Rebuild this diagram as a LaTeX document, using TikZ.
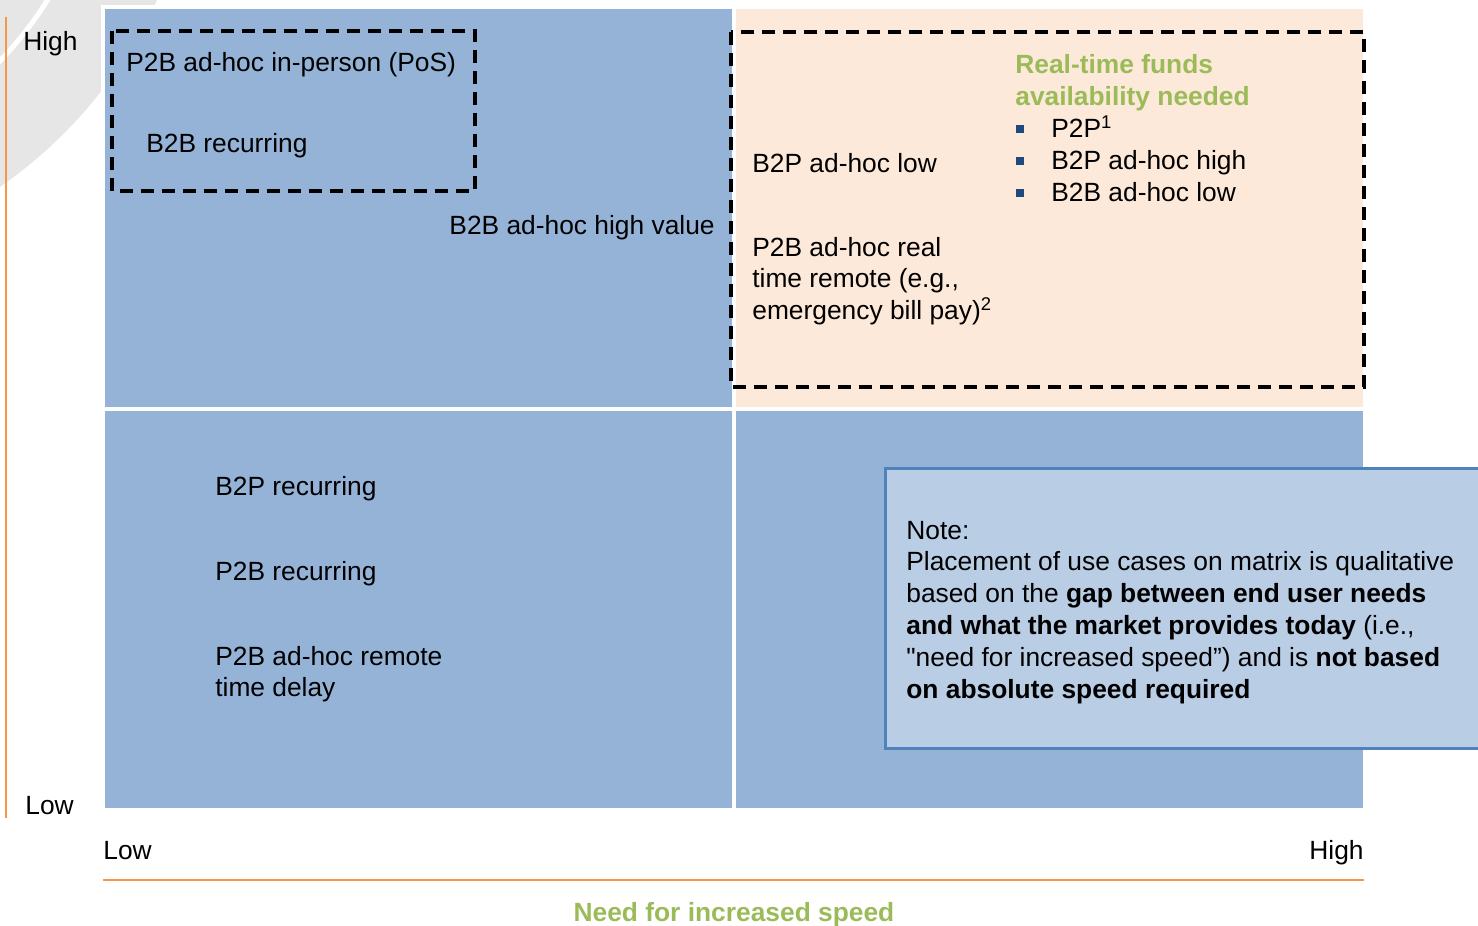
\documentclass[tikz,border=0pt]{standalone}
\usepackage{fontspec}
\setmainfont{Liberation Sans}
\usepackage{xcolor}
\usetikzlibrary{positioning}

\definecolor{quadblue}{HTML}{95B3D7}
\definecolor{quadpeach}{HTML}{FDE9D9}
\definecolor{notefill}{HTML}{B9CDE5}
\definecolor{noteline}{HTML}{4F81BD}
\definecolor{headgreen}{HTML}{9BBB59}
\definecolor{axisorange}{HTML}{F79646}
\definecolor{bulletblue}{HTML}{1F497D}
\definecolor{arcgrey}{HTML}{E6E6E6}

\newcommand{\mainsize}{\fontsize{15}{18.21}\selectfont}
\newcommand{\stacklines}[1]{\begin{tabular}[t]{@{}l@{}}#1\end{tabular}}
\newcommand{\sqbul}{\makebox[0.72cm][l]{\hspace{0.02cm}\textcolor{bulletblue}{\rule[0.1cm]{0.15cm}{0.15cm}}}}

\tikzset{
  quad/.style={draw=white, line width=0.08cm},
  dashbox/.style={draw=black, line width=0.08cm, dash pattern=on 0.26cm off 0.16cm},
  lbl/.style={anchor=base west, inner sep=0pt, font=\mainsize},
  lblr/.style={anchor=base east, inner sep=0pt, font=\mainsize},
  axisline/.style={draw=axisorange, line width=0.04cm}
}

\begin{document}
\begin{tikzpicture}[x=0.02cm, y=-0.02cm]
    \useasboundingbox (0,0) rectangle (1478,926);
    \clip (0,0) rectangle (1478,926);
    % faded ring in the corner
    \fill[arcgrey] (-264,-194) circle [radius=9.27cm];
    \draw[white, line width=0.1cm] (-264,-194) circle [radius=7.34cm];
    % quadrants
    \fill[quadblue, quad] (103,7) rectangle (733.5,408.5);
    \fill[quadpeach, quad] (733.5,7) rectangle (1365,408.5);
    \fill[quadblue, quad] (103,408.5) rectangle (733.5,809.5);
    \fill[quadblue, quad] (733.5,408.5) rectangle (1365,809.5);
    % dashed groups
    \draw[dashbox] (112,31) rectangle (475,191);
    \draw[dashbox] (731,32) rectangle (1364,387);
    % axes
    \draw[axisline] (6,17) -- (6,818);
    \draw[axisline] (103,880) -- (1364,880);
    \node[lbl] (yhigh) at (23,51) {High};
    \node[lbl] (ylow) at (25,814) {Low};
    \node[lbl] (xlow) at (103,859) {Low};
    \node[lblr] (xhigh) at (1364,859) {High};
    \node[anchor=base, inner sep=0pt, font=\mainsize\bfseries, text=headgreen] (xtitle) at (734,921) {Need for increased speed};
    % top left
    \node[lbl] (p2bpos) at (126,72) {P2B ad-hoc in-person (PoS)};
    \node[lbl] (b2brec) at (146,153) {B2B recurring};
    \node[lblr] (b2bhigh) at (715,235) {B2B ad-hoc high value};
    % top right
    \node[lbl] (b2plow) at (752,173) {B2P ad-hoc low};
    \node[lbl] (p2breal) at (752,256) {\stacklines{P2B ad-hoc real\\ time remote (e.g.,\\ emergency bill pay)\textsuperscript{2}}};
    \node[lbl] (realtime) at (1015,74) {\stacklines{\textcolor{headgreen}{\bfseries Real-time funds}\\
        \textcolor{headgreen}{\bfseries availability needed}\\
        \sqbul P2P\textsuperscript{1}\\ \sqbul B2P ad-hoc high\\ \sqbul B2B ad-hoc low}};
    % bottom left
    \node[lbl] (b2prec) at (215,495) {B2P recurring};
    \node[lbl] (p2brec) at (215,580) {P2B recurring};
    \node[lbl] (p2bremote) at (215,665) {\stacklines{P2B ad-hoc remote\\ time delay}};
    % note
    \draw[fill=notefill, draw=noteline, line width=0.06cm] (885.5,468.5) rectangle (1500,748.5);
    \node[lbl] (note) at (906,539) {\stacklines{Note:\\
        Placement of use cases on matrix is qualitative\\
        based on the \textbf{gap between end user needs}\\
        \textbf{and what the market provides today} (i.e.,\\
        \textquotedbl need for increased speed'') and is \textbf{not based}\\
        \textbf{on absolute speed required}}};
\end{tikzpicture}
\end{document}
